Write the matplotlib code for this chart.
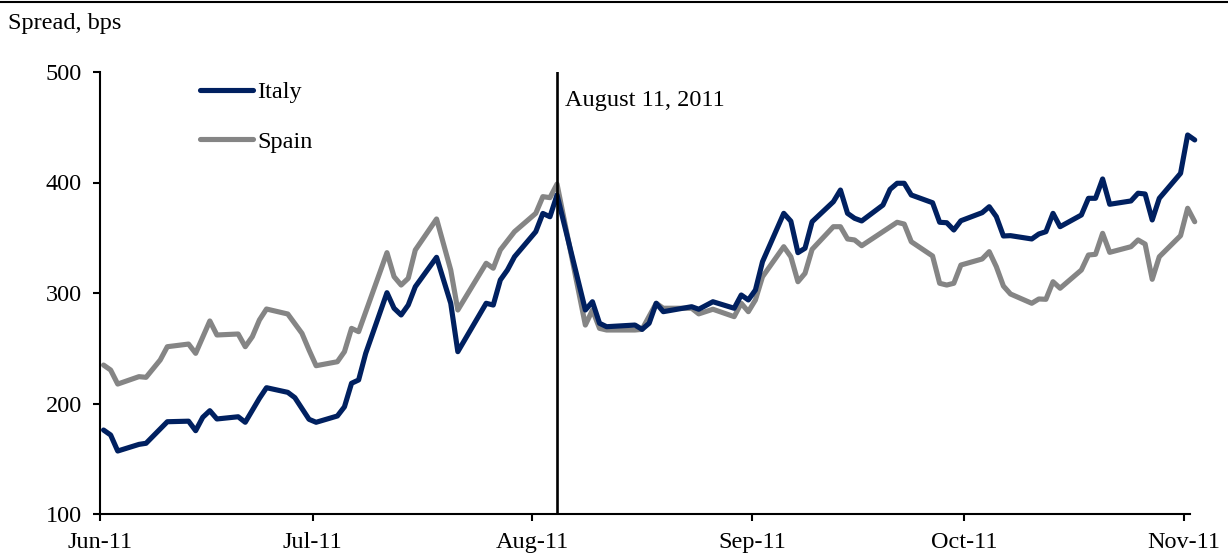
import numpy as np
import pandas as pd
import matplotlib
matplotlib.use("Agg")
import matplotlib.pyplot as plt
import matplotlib.dates as mdates
from matplotlib.lines import Line2D

# 10-year bond spreads over Bund, bps
italy_dates = ["2011-06-01", "2011-06-02", "2011-06-03", "2011-06-06", "2011-06-07",
               "2011-06-10", "2011-06-13", "2011-06-14", "2011-06-15", "2011-06-16",
               "2011-06-17", "2011-06-20", "2011-06-21", "2011-06-23", "2011-06-24",
               "2011-06-27", "2011-06-28", "2011-06-30", "2011-07-01", "2011-07-04",
               "2011-07-05", "2011-07-06", "2011-07-07", "2011-07-08", "2011-07-11",
               "2011-07-12", "2011-07-13", "2011-07-14", "2011-07-15", "2011-07-18",
               "2011-07-20", "2011-07-21", "2011-07-25", "2011-07-26", "2011-07-27",
               "2011-07-28", "2011-07-29", "2011-08-01", "2011-08-02", "2011-08-03",
               "2011-08-04", "2011-08-08", "2011-08-09", "2011-08-10", "2011-08-11",
               "2011-08-15", "2011-08-16", "2011-08-17", "2011-08-18", "2011-08-19",
               "2011-08-23", "2011-08-24", "2011-08-26", "2011-08-29", "2011-08-30",
               "2011-08-31", "2011-09-01", "2011-09-02", "2011-09-05", "2011-09-06",
               "2011-09-07", "2011-09-08", "2011-09-09", "2011-09-12", "2011-09-13",
               "2011-09-14", "2011-09-15", "2011-09-16", "2011-09-19", "2011-09-20",
               "2011-09-21", "2011-09-22", "2011-09-23", "2011-09-26", "2011-09-27",
               "2011-09-28", "2011-09-29", "2011-09-30", "2011-10-03", "2011-10-04",
               "2011-10-05", "2011-10-06", "2011-10-07", "2011-10-10", "2011-10-11",
               "2011-10-12", "2011-10-13", "2011-10-14", "2011-10-17", "2011-10-18",
               "2011-10-19", "2011-10-20", "2011-10-21", "2011-10-24", "2011-10-25",
               "2011-10-26", "2011-10-27", "2011-10-28", "2011-10-31", "2011-11-01",
               "2011-11-02"]
italy = [176, 171.5, 157, 163, 164,
         183.5, 184, 175.4, 187.5, 193.5,
         186, 188, 183, 204.7, 214.3,
         210.1, 205.3, 185.7, 183, 188.7,
         197, 218.3, 221.3, 245.4, 300.3,
         286.2, 280.1, 289.1, 305.7, 332.3,
         290.7, 246.9, 290.7, 289.1, 311.8,
         320.8, 332.8, 355.5, 372, 369,
         388.7, 284.6, 292.1, 272.6, 269.5,
         271, 267.1, 272.6, 290.7, 283.1,
         287.6, 285.3, 292.1, 286.2, 298.2,
         293.7, 302.7, 328.3, 372.1, 365,
         336.5, 340.5, 364.5, 382.6, 393.2,
         372.1, 367.6, 365.2, 379.6, 393.8,
         399.3, 399.3, 388.7, 381.7, 364,
         363.6, 357, 365.4, 372.7, 378.1,
         369.1, 351.6, 351.9, 348.9, 353.4,
         355.5, 372.1, 360, 370.6, 385.7,
         385.7, 403.2, 380.3, 383.3, 390.3,
         389.6, 366.1, 385.7, 408.3, 443,
         438.5]

spain_dates = ["2011-06-01", "2011-06-02", "2011-06-03", "2011-06-06", "2011-06-07",
               "2011-06-09", "2011-06-10", "2011-06-13", "2011-06-14", "2011-06-16",
               "2011-06-17", "2011-06-20", "2011-06-21", "2011-06-22", "2011-06-23",
               "2011-06-24", "2011-06-27", "2011-06-29", "2011-06-30", "2011-07-01",
               "2011-07-04", "2011-07-05", "2011-07-06", "2011-07-07", "2011-07-11",
               "2011-07-12", "2011-07-13", "2011-07-14", "2011-07-15", "2011-07-18",
               "2011-07-20", "2011-07-21", "2011-07-25", "2011-07-26", "2011-07-27",
               "2011-07-29", "2011-08-01", "2011-08-02", "2011-08-03", "2011-08-04",
               "2011-08-08", "2011-08-09", "2011-08-10", "2011-08-11", "2011-08-15",
               "2011-08-16", "2011-08-18", "2011-08-19", "2011-08-23", "2011-08-24",
               "2011-08-26", "2011-08-29", "2011-08-30", "2011-08-31", "2011-09-01",
               "2011-09-02", "2011-09-05", "2011-09-06", "2011-09-07", "2011-09-08",
               "2011-09-09", "2011-09-12", "2011-09-13", "2011-09-14", "2011-09-15",
               "2011-09-16", "2011-09-21", "2011-09-22", "2011-09-23", "2011-09-26",
               "2011-09-27", "2011-09-28", "2011-09-29", "2011-09-30", "2011-10-03",
               "2011-10-04", "2011-10-05", "2011-10-06", "2011-10-07", "2011-10-10",
               "2011-10-11", "2011-10-12", "2011-10-13", "2011-10-14", "2011-10-17",
               "2011-10-18", "2011-10-19", "2011-10-20", "2011-10-21", "2011-10-24",
               "2011-10-25", "2011-10-26", "2011-10-27", "2011-10-28", "2011-10-31",
               "2011-11-01", "2011-11-02"]
spain = [234.8, 230.3, 217.6, 224.3, 223.7,
         239.4, 251.4, 253.8, 245.4, 274.7,
         262, 262.9, 251.4, 260.5, 275.6,
         285.5, 281, 263.5, 248.4, 234.2,
         237.8, 246.9, 268, 265, 336.5,
         314.8, 307.2, 313.3, 338.9, 367,
         320.8, 284.6, 326.9, 322.4, 339,
         355.5, 372.1, 387.2, 386.3, 398.6,
         271, 284.6, 268, 266.5, 266.5,
         267.1, 290.7, 286.2, 286.2, 281.1,
         285.3, 278.6, 290.7, 283.1, 293.7,
         314.7, 341.9, 332.8, 310.2, 317.8,
         339.5, 360, 360, 348.9, 348,
         342.8, 364, 362.4, 346.4, 333.5,
         308.8, 307.2, 308.8, 325.3, 330.8,
         337.4, 323.8, 306.3, 299.1, 290.7,
         294.6, 294.3, 310.2, 304.3, 320.8,
         334.4, 335, 354, 336.8, 341.9,
         348, 344.3, 312.4, 332.8, 351.9,
         376.7, 364.5]

event_date = "2011-08-04"
event_label = "August 11, 2011"

plt.rcParams['font.family'] = ['Liberation Serif', 'DejaVu Serif']
fs = 17.5

# data points sit mid-day on the date axis
half_day = pd.Timedelta(hours=12)
x_it = pd.to_datetime(italy_dates) + half_day
x_sp = pd.to_datetime(spain_dates) + half_day

fig = plt.figure(figsize=(12.28, 5.56), dpi=100)
ax = fig.add_axes([100/1228, 1 - 514/556, 1090/1228, 442/556])

ax.plot(x_it, italy, color='#002060', lw=3.7, label='Italy', solid_capstyle='round',
        solid_joinstyle='round', zorder=3, clip_on=False)
ax.plot(x_sp, spain, color='#858585', lw=3.7, label='Spain', solid_capstyle='round',
        solid_joinstyle='round', zorder=2, clip_on=False)

ev = pd.Timestamp(event_date) + half_day
ax.axvline(ev, color='black', lw=1.9, zorder=4)
ax.text(ev + pd.Timedelta(hours=27), 474, event_label, fontsize=fs, va='center', ha='left')

ax.set_ylim(100, 500)
ax.set_yticks([100, 200, 300, 400, 500])
ax.set_xlim(pd.Timestamp("2011-06-01"), pd.Timestamp("2011-11-01 20:00"))
ax.xaxis.set_major_locator(mdates.MonthLocator())
ax.xaxis.set_major_formatter(mdates.DateFormatter('%b-%y'))

for s in ['top', 'right']:
    ax.spines[s].set_visible(False)
for s in ['left', 'bottom']:
    ax.spines[s].set_linewidth(1.5)
ax.tick_params(axis='both', direction='out', length=5, width=1.5, labelsize=fs, pad=8)

leg = ax.legend(loc='upper left', bbox_to_anchor=(0.092, 0.979), frameon=False,
                fontsize=fs, handlelength=2.15, handletextpad=0.2, labelspacing=1.12,
                borderpad=0, borderaxespad=0)

fig.text(8/1228, 1 - 23/556, 'Spread, bps', fontsize=fs, va='center', ha='left')
fig.add_artist(Line2D([0, 1], [1 - 2/556, 1 - 2/556], color='black', lw=1.5, transform=fig.transFigure))

fig.savefig('out.png', dpi=100)
